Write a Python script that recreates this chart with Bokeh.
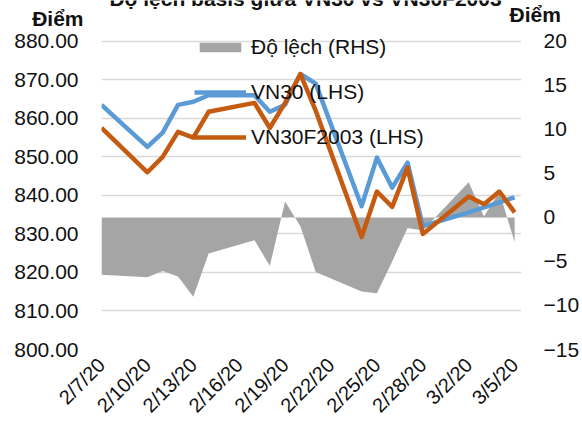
import math
import pandas as pd
from bokeh.plotting import figure
from bokeh.models import (Range1d, LinearAxis, FixedTicker, NumeralTickFormatter,
                          Label, Legend, LegendItem, ColumnDataSource)
from bokeh.embed import file_html
from bokeh.resources import INLINE

# ---------------- data ----------------
dates = ["2020-02-07", "2020-02-10", "2020-02-11", "2020-02-12", "2020-02-13",
         "2020-02-14", "2020-02-17", "2020-02-18", "2020-02-19", "2020-02-20",
         "2020-02-21", "2020-02-24", "2020-02-25", "2020-02-26", "2020-02-27",
         "2020-02-28", "2020-03-02", "2020-03-03", "2020-03-04", "2020-03-05"]
vn30 = [863.5, 852.6, 856.3, 863.5, 864.3, 866.0, 866.0, 861.7, 863.5, 871.5,
        869.0, 837.2, 849.8, 842.0, 848.5, 832.0, 835.6, 836.9, 838.2, 839.5]
vn30f2003 = [857.5, 846.0, 850.0, 856.5, 855.0, 861.7, 864.0, 857.5, 864.0, 871.5,
             862.0, 829.2, 841.0, 837.0, 847.2, 830.0, 839.7, 837.7, 841.0, 835.6]
basis = [-6.5, -6.8, -6.1, -6.7, -9.0, -4.1, -2.6, -5.5, 1.8, -1.0,
         -6.2, -8.4, -8.6, -5.0, -1.2, -1.5, 4.0, 0.1, 2.9, -2.8]

tick_dates = ["2020-02-07", "2020-02-10", "2020-02-13", "2020-02-16", "2020-02-19",
              "2020-02-22", "2020-02-25", "2020-02-28", "2020-03-02", "2020-03-05"]
tick_labels = ["2/7/20", "2/10/20", "2/13/20", "2/16/20", "2/19/20",
               "2/22/20", "2/25/20", "2/28/20", "3/2/20", "3/5/20"]
left_ticks = [800, 810, 820, 830, 840, 850, 860, 870, 880]
right_ticks = [-15, -10, -5, 0, 5, 10, 15, 20]

title_text = "Độ lệch basis giữa VN30 vs VN30F2003"
unit_text = "Điểm"
series_names = ["Độ lệch (RHS)", "VN30 (LHS)", "VN30F2003 (LHS)"]

# ---------------- styles ----------------
FONT = "Liberation Sans"
FS = "21px"
BLUE = "#5B9BD5"
ORANGE = "#C55A11"
GREY = "#A5A5A5"
TXT = "#111111"

src = ColumnDataSource(dict(x=pd.to_datetime(dates), vn30=vn30, vn30f=vn30f2003, basis=basis))

x0 = pd.Timestamp("2020-02-07")
x1 = x0 + pd.Timedelta(days=27.45)

# left range: 800 at frame bottom, 880 at 41px below the top
LMIN, LMAX = 800, 890.58
RMIN, RMAX = -15, 24.63
left_unit_pos = 885.8
right_unit_pos = 23.66

p = figure(width=582, height=427, x_axis_type="datetime",
           x_range=Range1d(x0, x1), y_range=Range1d(LMIN, LMAX),
           output_backend="svg", toolbar_location=None,
           min_border_left=101, min_border_right=57,
           min_border_top=0, min_border_bottom=76)
p.extra_y_ranges = {"rhs": Range1d(RMIN, RMAX)}
p.outline_line_color = None
p.background_fill_color = "white"
p.border_fill_color = "white"

area_r = p.varea(x="x", y1=0, y2="basis", source=src, y_range_name="rhs",
                 fill_color=GREY, fill_alpha=1.0)
blue_r = p.line("x", "vn30", source=src, line_color=BLUE, line_width=4.5, line_join="round")
orange_r = p.line("x", "vn30f", source=src, line_color=ORANGE, line_width=4.5, line_join="round")


def style_axis(ax, size=FS, bold=False):
    ax.axis_line_color = None
    ax.major_tick_line_color = None
    ax.minor_tick_line_color = None
    ax.major_tick_out = 0
    ax.major_tick_in = 0
    ax.major_label_text_font = FONT
    ax.major_label_text_font_size = size
    ax.major_label_text_color = TXT
    if bold:
        ax.major_label_text_font_style = "bold"


# inner left axis: unit label "Điểm"
lax_unit = p.yaxis[0]
lax_unit.ticker = FixedTicker(ticks=[left_unit_pos])
lax_unit.major_label_overrides = {left_unit_pos: unit_text}
lax_unit.major_label_standoff = 18
style_axis(lax_unit, bold=True)

# outer left axis: numbers
lax = LinearAxis(ticker=FixedTicker(ticks=left_ticks),
                 formatter=NumeralTickFormatter(format="0.00"))
lax.major_label_standoff = -49
style_axis(lax)
p.add_layout(lax, "left")

# inner right axis: unit label "Điểm"
rax_unit = LinearAxis(y_range_name="rhs", ticker=FixedTicker(ticks=[right_unit_pos]))
rax_unit.major_label_overrides = {right_unit_pos: unit_text}
rax_unit.major_label_standoff = -12
style_axis(rax_unit, bold=True)
p.add_layout(rax_unit, "right")

# outer right axis: numbers
rax = LinearAxis(y_range_name="rhs", ticker=FixedTicker(ticks=right_ticks))
rax.major_label_standoff = -20
style_axis(rax)
p.add_layout(rax, "right")

xms = [int(pd.Timestamp(t).value // 10**6) for t in tick_dates]
xax = p.xaxis[0]
xax.ticker = FixedTicker(ticks=xms)
xax.major_label_overrides = {m: lab for m, lab in zip(xms, tick_labels)}
xax.major_label_orientation = math.pi / 4
xax.major_label_standoff = 12
style_axis(xax, size="20px")

p.xgrid.visible = False
p.ygrid.ticker = FixedTicker(ticks=left_ticks)
p.ygrid.grid_line_color = "#D9D9D9"
p.ygrid.grid_line_width = 1.5

legend = Legend(items=[LegendItem(label=series_names[0], renderers=[area_r]),
                       LegendItem(label=series_names[1], renderers=[blue_r]),
                       LegendItem(label=series_names[2], renderers=[orange_r])],
                location=(93, 200), orientation="vertical",
                glyph_width=52, glyph_height=12, label_height=20, spacing=21,
                padding=0, margin=0, label_standoff=5,
                border_line_alpha=0, background_fill_alpha=0,
                label_text_font=FONT, label_text_font_size=FS,
                label_text_color=TXT)
p.add_layout(legend)

p.add_layout(Label(x=204, y=351, x_units="screen", y_units="screen", text=title_text,
                   text_align="center", text_baseline="alphabetic",
                   text_font=FONT, text_font_size=FS,
                   text_font_style="bold", text_color=TXT))

open("out.html", "w").write(file_html(p, INLINE))
